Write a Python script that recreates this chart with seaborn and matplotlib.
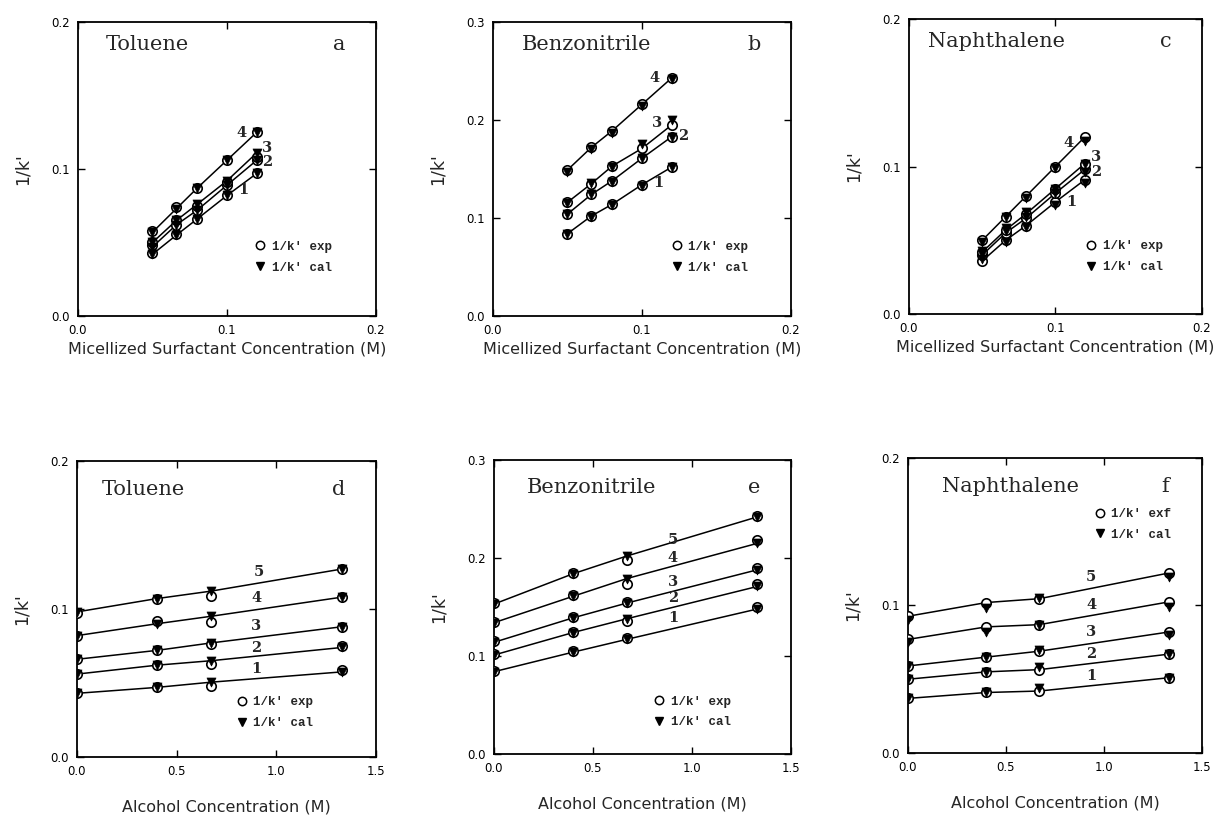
import numpy as np
import pandas as pd
import matplotlib
matplotlib.use("Agg")
import matplotlib.pyplot as plt
from matplotlib.lines import Line2D
import seaborn as sns

# micellized surfactant concentration (M) and alcohol concentration (M)
x_mic = [0.05, 0.066, 0.08, 0.1, 0.12]
x_alc = [0.0, 0.4, 0.67, 1.33]

# panel a - toluene vs micelle conc, curves 1-4
tol_mic_exp = [[0.043, 0.056, 0.066, 0.082, 0.097],
               [0.048, 0.062, 0.072, 0.089, 0.106],
               [0.050, 0.065, 0.075, 0.091, 0.108],
               [0.058, 0.074, 0.087, 0.106, 0.125]]
tol_mic_cal = [[0.042, 0.055, 0.066, 0.082, 0.097],
               [0.047, 0.062, 0.072, 0.089, 0.106],
               [0.050, 0.065, 0.076, 0.092, 0.111],
               [0.057, 0.073, 0.087, 0.106, 0.125]]

# panel b - benzonitrile vs micelle conc
bzn_mic_exp = [[0.084, 0.102, 0.114, 0.134, 0.152],
               [0.104, 0.124, 0.138, 0.161, 0.183],
               [0.116, 0.135, 0.153, 0.171, 0.195],
               [0.149, 0.172, 0.189, 0.216, 0.243]]
bzn_mic_cal = [[0.084, 0.101, 0.113, 0.133, 0.152],
               [0.104, 0.124, 0.137, 0.161, 0.183],
               [0.115, 0.136, 0.152, 0.176, 0.200],
               [0.147, 0.170, 0.187, 0.214, 0.242]]

# panel c - naphthalene vs micelle conc
nap_mic_exp = [[0.036, 0.050, 0.060, 0.076, 0.091],
               [0.040, 0.055, 0.065, 0.082, 0.098],
               [0.042, 0.057, 0.068, 0.085, 0.102],
               [0.050, 0.066, 0.080, 0.100, 0.120]]
nap_mic_cal = [[0.037, 0.049, 0.059, 0.074, 0.089],
               [0.041, 0.056, 0.066, 0.082, 0.096],
               [0.043, 0.058, 0.069, 0.085, 0.102],
               [0.049, 0.066, 0.079, 0.099, 0.117]]

# panel d - toluene vs alcohol conc, curves 1-5
tol_alc_exp = [[0.043, 0.047, 0.048, 0.059],
               [0.056, 0.062, 0.0625, 0.075],
               [0.066, 0.072, 0.076, 0.088],
               [0.082, 0.092, 0.091, 0.108],
               [0.097, 0.107, 0.109, 0.127]]
tol_alc_cal = [[0.043, 0.047, 0.0505, 0.0575],
               [0.056, 0.062, 0.065, 0.074],
               [0.066, 0.072, 0.077, 0.088],
               [0.082, 0.090, 0.095, 0.108],
               [0.098, 0.107, 0.112, 0.127]]

# panel e - benzonitrile vs alcohol conc
bzn_alc_exp = [[0.085, 0.105, 0.118, 0.150],
               [0.102, 0.125, 0.136, 0.173],
               [0.115, 0.140, 0.155, 0.190],
               [0.135, 0.162, 0.173, 0.218],
               [0.154, 0.185, 0.198, 0.243]]
bzn_alc_cal = [[0.084, 0.104, 0.117, 0.148],
               [0.101, 0.124, 0.138, 0.171],
               [0.114, 0.139, 0.154, 0.188],
               [0.134, 0.161, 0.179, 0.215],
               [0.153, 0.184, 0.202, 0.242]]

# panel f - naphthalene vs alcohol conc
nap_alc_exp = [[0.037, 0.041, 0.042, 0.051],
               [0.050, 0.055, 0.0565, 0.067],
               [0.059, 0.065, 0.069, 0.082],
               [0.077, 0.0855, 0.087, 0.1024],
               [0.0927, 0.102, 0.1046, 0.122]]
nap_alc_cal = [[0.037, 0.041, 0.044, 0.051],
               [0.050, 0.055, 0.058, 0.067],
               [0.059, 0.065, 0.070, 0.080],
               [0.075, 0.082, 0.087, 0.099],
               [0.090, 0.098, 0.105, 0.119]]

solutes = ["Toluene", "Benzonitrile", "Naphthalene"]
letters = ["a", "b", "c", "d", "e", "f"]
xlabel_top = "Micellized Surfactant Concentration (M)"
xlabel_bot = "Alcohol Concentration (M)"
legend_labels = [["1/k' exp", "1/k' cal"]] * 5 + [["1/k' exf", "1/k' cal"]]

sns.set_style("ticks")
plt.rcParams["font.family"] = ["DejaVu Sans"]

fig = plt.figure(figsize=(12.26, 8.18), dpi=100)

panels = [
    dict(rect=[0.0636, 0.6137, 0.2431, 0.3594], x=x_mic, exp=tol_mic_exp, cal=tol_mic_cal,
         xlim=0.2, xt=[0.0, 0.1, 0.2], ylim=0.2, line="cal",
         lab=[(0.111, 0.0855), (0.127, 0.1045), (0.127, 0.1145), (0.110, 0.1245)],
         title_x=0.094, leg=(0.57, 0.20)),
    dict(rect=[0.4021, 0.6137, 0.2431, 0.3594], x=x_mic, exp=bzn_mic_exp, cal=bzn_mic_cal,
         xlim=0.2, xt=[0.0, 0.1, 0.2], ylim=0.3, line="exp",
         lab=[(0.111, 0.136), (0.1275, 0.184), (0.110, 0.197), (0.1087, 0.243)],
         title_x=0.097, leg=(0.575, 0.20)),
    dict(rect=[0.7414, 0.6161, 0.2390, 0.3606], x=x_mic, exp=nap_mic_exp, cal=nap_mic_cal,
         xlim=0.2, xt=[0.0, 0.1, 0.2], ylim=0.2, line="exp",
         lab=[(0.111, 0.076), (0.128, 0.0963), (0.128, 0.1064), (0.109, 0.116)],
         title_x=0.065, leg=(0.58, 0.195)),
    dict(rect=[0.0628, 0.0746, 0.2439, 0.3619], x=x_alc, exp=tol_alc_exp, cal=tol_alc_cal,
         xlim=1.5, xt=[0.0, 0.5, 1.0, 1.5], ylim=0.2, line="cal",
         lab=[(0.90, 0.0593), (0.90, 0.0739), (0.90, 0.0887), (0.90, 0.1074), (0.91, 0.125)],
         title_x=0.084, leg=(0.51, 0.15)),
    dict(rect=[0.4029, 0.0782, 0.2423, 0.3594], x=x_alc, exp=bzn_alc_exp, cal=bzn_alc_cal,
         xlim=1.5, xt=[0.0, 0.5, 1.0, 1.5], ylim=0.3, line="cal",
         lab=[(0.904, 0.139), (0.904, 0.159), (0.904, 0.1758), (0.904, 0.2003), (0.904, 0.218)],
         title_x=0.111, leg=(0.515, 0.143)),
    dict(rect=[0.7406, 0.0795, 0.2398, 0.3606], x=x_alc, exp=nap_alc_exp, cal=nap_alc_cal,
         xlim=1.5, xt=[0.0, 0.5, 1.0, 1.5], ylim=0.2, line="exp",
         lab=[(0.934, 0.0522), (0.934, 0.0669), (0.934, 0.0818), (0.934, 0.1003), (0.934, 0.1195)],
         title_x=0.116, leg=(0.61, 0.775)),
]

for i, p in enumerate(panels):
    ax = fig.add_axes(p["rect"])
    for k, (ye, yc) in enumerate(zip(p["exp"], p["cal"])):
        yl = yc if p["line"] == "cal" else ye
        sns.lineplot(x=p["x"], y=yl, color="black", lw=1.1, ax=ax, sort=False)
        sns.scatterplot(x=p["x"], y=ye, marker="o", s=46, facecolor="white",
                        edgecolor="black", linewidth=1.2, ax=ax, zorder=3)
        sns.scatterplot(x=p["x"], y=yc, marker="v", s=42, color="black",
                        edgecolor="black", linewidth=0.5, ax=ax, zorder=4)
        lx, ly = p["lab"][k]
        ax.text(lx, ly, str(k + 1), fontsize=10.5, fontweight="bold",
                family="DejaVu Serif", ha="center", va="center")

    ax.set_xlim(0, p["xlim"])
    ax.set_ylim(0, p["ylim"])
    ax.set_xticks(p["xt"])
    ax.set_xticklabels([f"{t:.1f}" for t in p["xt"]])
    yt = np.round(np.arange(0, p["ylim"] + 0.001, 0.1), 1)
    ax.set_yticks(yt)
    ax.set_yticklabels([f"{t:.1f}" for t in yt])
    ax.tick_params(direction="in", top=True, right=True, length=5, width=1,
                   labelsize=8.5, pad=6, colors="black")
    for sp in ax.spines.values():
        sp.set_linewidth(1.3)
        sp.set_color("black")

    ax.set_xlabel(xlabel_top if i < 3 else xlabel_bot, fontsize=11.5,
                  labelpad=3 if i < 3 else 15)
    ax.set_ylabel("1/k'", fontsize=12.5, labelpad=14)

    ty = 0.925 if i < 3 else 0.905
    ax.text(p["title_x"], ty, solutes[i % 3], transform=ax.transAxes,
            fontsize=15, family="DejaVu Serif", ha="left", va="center")
    ax.text(0.875, ty, letters[i], transform=ax.transAxes,
            fontsize=15, family="DejaVu Serif", ha="center", va="center")

    handles = [Line2D([], [], marker="o", ls="none", mfc="white", mec="black", ms=6, mew=1.1),
               Line2D([], [], marker="v", ls="none", mfc="black", mec="black", ms=6)]
    ax.legend(handles, legend_labels[i], loc="center left", bbox_to_anchor=p["leg"],
              frameon=False, handletextpad=0.4, labelspacing=0.7, borderpad=0,
              handlelength=1.0, prop=dict(family="Liberation Mono", weight="bold", size=9))

fig.savefig("out.png", dpi=100, facecolor="white")
